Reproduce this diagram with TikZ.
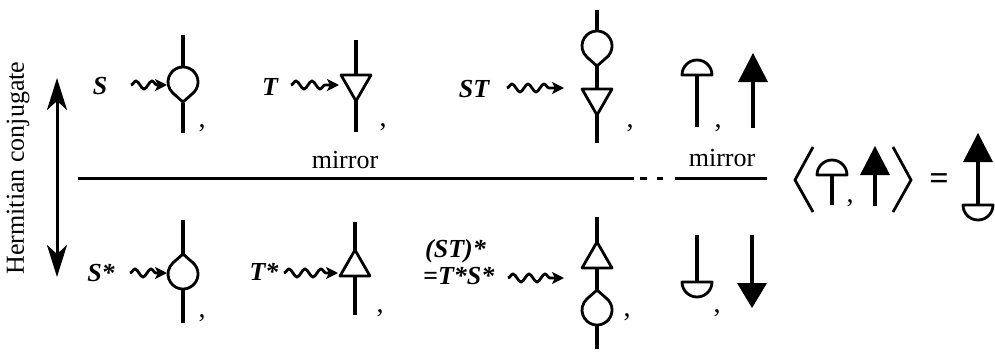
\documentclass[tikz,border=0pt]{standalone}
\usepackage{fontspec}
\setmainfont{Liberation Serif}
\usetikzlibrary{arrows.meta,decorations.pathmorphing}
\begin{document}
\begin{tikzpicture}[x=1pt,y=-1pt,
  stem/.style={line width=3.2pt},
  outl/.style={line width=2.8pt, line join=round, fill=white},
  wig/.style={line width=2.8pt, decorate,
    decoration={snake, amplitude=4pt, segment length=16pt, post length=9pt},
    -{Stealth[length=12pt,width=12pt,inset=3pt]}},
  lab/.style={font=\fontsize{26}{30}\selectfont\bfseries\itshape, inner sep=0pt},
  txt/.style={font=\fontsize{26}{30}\selectfont, inner sep=0pt},
  commanode/.style={font=\fontsize{28}{30}\selectfont, inner sep=0pt, anchor=base},
  brk/.style={line width=2.8pt, line join=miter},
  mline/.style={line width=3pt},
  tdown/.pic={\draw[outl] (0,20) -- (48.6:15) arc[start angle=48.6, end angle=-228.6, radius=15] -- cycle;},
  tup/.pic={\draw[outl] (0,-20) -- (-48.6:15) arc[start angle=-48.6, end angle=228.6, radius=15] -- cycle;},
  tridown/.pic={\draw[outl] (-15,0) -- (15,0) -- (0,26) -- cycle;},
  triup/.pic={\draw[outl] (-15,0) -- (15,0) -- (0,-26) -- cycle;},
  domeup/.pic={\draw[outl] (-15,0) arc[start angle=180, end angle=360, radius=15] -- cycle;},
  domedown/.pic={\draw[outl] (-15,0) arc[start angle=180, end angle=0, radius=15] -- cycle;},
  headup/.pic={\fill (-15,0) -- (15,0) -- (0,-29) -- cycle;},
  headdown/.pic={\fill (-15,0) -- (15,0) -- (0,25) -- cycle;}
]
\useasboundingbox (0,0) rectangle (995,351);

% Hermitian conjugate
\node[txt, rotate=90] (herm) at (18,168) {Hermitian conjugate};
\coordinate (hTop) at (57,78);
\coordinate (hBot) at (57,277);
\draw[line width=3pt, {Stealth[length=32pt,width=20pt,inset=9pt]}-{Stealth[length=32pt,width=20pt,inset=9pt]}] (hTop) -- (hBot);

% mirror line
\coordinate (m1) at (78,178);
\coordinate (m2) at (634,178);
\coordinate (m3) at (640,178);
\coordinate (m4) at (647,178);
\coordinate (m5) at (657,178);
\coordinate (m6) at (663,178);
\coordinate (m7) at (675,178);
\coordinate (m8) at (767,178);
\draw[mline] (m1) -- (m2);
\draw[mline] (m3) -- (m4);
\draw[mline] (m5) -- (m6);
\draw[mline] (m7) -- (m8);
\node[txt] (mir1) at (345,160) {mirror};
\node[txt] (mir2) at (722,158) {mirror};

% ---------- top row ----------
% S
\node[lab] (lS) at (100,86) {S};
\coordinate (wSa) at (131,85); \coordinate (wSb) at (167,85);
\draw[wig] (wSa) -- (wSb);
\draw[stem] (183,35) -- (183,68);
\draw[stem] (183,103) -- (183,133);
\pic at (183,82) {tdown};
\node[commanode] (c1) at (202,127) {,};

% T
\node[lab] (lT) at (270,87) {T};
\coordinate (wTa) at (291,85); \coordinate (wTb) at (339,85);
\draw[wig] (wTa) -- (wTb);
\draw[stem] (356,40) -- (356,75);
\draw[stem] (356,101) -- (356,132);
\pic at (356,75) {tridown};
\node[commanode] (c2) at (383,126) {,};

% ST
\node[lab] (lST) at (474,89) {ST};
\coordinate (wSTa) at (507,88); \coordinate (wSTb) at (564,88);
\draw[wig] (wSTa) -- (wSTb);
\draw[stem] (597,10) -- (597,32);
\draw[stem] (597,66) -- (597,89);
\draw[stem] (597,113) -- (597,143);
\pic at (597,46) {tdown};
\pic at (597,89) {tridown};
\node[commanode] (c3) at (630,127) {,};

% dome up
\draw[stem] (697,75) -- (697,127);
\pic at (697,75) {domeup};
\node[commanode] (c4) at (718,127) {,};

% arrow up
\draw[stem] (753,82) -- (753,128);
\pic at (753,82) {headup};

% ---------- bottom row ----------
% S*
\node[lab] (lSs) at (101,273) {S*};
\coordinate (wSsa) at (130,273); \coordinate (wSsb) at (167,273);
\draw[wig] (wSsa) -- (wSsb);
\draw[stem] (183,220) -- (183,254);
\draw[stem] (183,288) -- (183,323);
\pic at (183,274) {tup};
\node[commanode] (c5) at (202,317) {,};

% T*
\node[lab] (lTs) at (264,272) {T*};
\coordinate (wTsa) at (284,273); \coordinate (wTsb) at (338,273);
\draw[wig] (wTsa) -- (wTsb);
\draw[stem] (355,222) -- (355,250);
\draw[stem] (355,276) -- (355,315);
\pic at (355,276) {triup};
\node[commanode] (c6) at (380,312) {,};

% (ST)*
\node[lab, anchor=west] (lSTs1) at (425,251) {(ST)*};
\node[lab, anchor=west] (lSTs2) at (423,276) {=T*S*};
\coordinate (wSTsa) at (508,278); \coordinate (wSTsb) at (564,278);
\draw[wig] (wSTsa) -- (wSTsb);
\draw[stem] (597,217) -- (597,243);
\draw[stem] (597,268) -- (597,291);
\draw[stem] (597,325) -- (597,349);
\pic at (597,310) {tup};
\pic at (597,268) {triup};
\node[commanode] (c7) at (627,316) {,};

% dome down
\draw[stem] (697,235) -- (697,282);
\pic at (697,282) {domedown};
\node[commanode] (c8) at (717,312) {,};

% arrow down
\draw[stem] (752,235) -- (752,283);
\pic at (752,283) {headdown};

% ---------- bracket ----------
\coordinate (la1) at (813,147); \coordinate (la2) at (795,180); \coordinate (la3) at (813,212);
\draw[brk] (la1) -- (la2) -- (la3);
\draw[stem] (832,175) -- (832,205);
\pic at (832,175) {domeup};
\node[commanode] (c9) at (850,202) {,};
\draw[stem] (875,175) -- (875,206);
\pic at (875,175) {headup};
\coordinate (ra1) at (893,147); \coordinate (ra2) at (911,180); \coordinate (ra3) at (893,212);
\draw[brk] (ra1) -- (ra2) -- (ra3);
\node[txt, font=\fontsize{34}{36}\selectfont\bfseries] (eq) at (939,182) {=};
\draw[stem] (978,162) -- (978,205);
\pic at (978,162) {headup};
\pic at (978,205) {domedown};
\end{tikzpicture}
\end{document}
